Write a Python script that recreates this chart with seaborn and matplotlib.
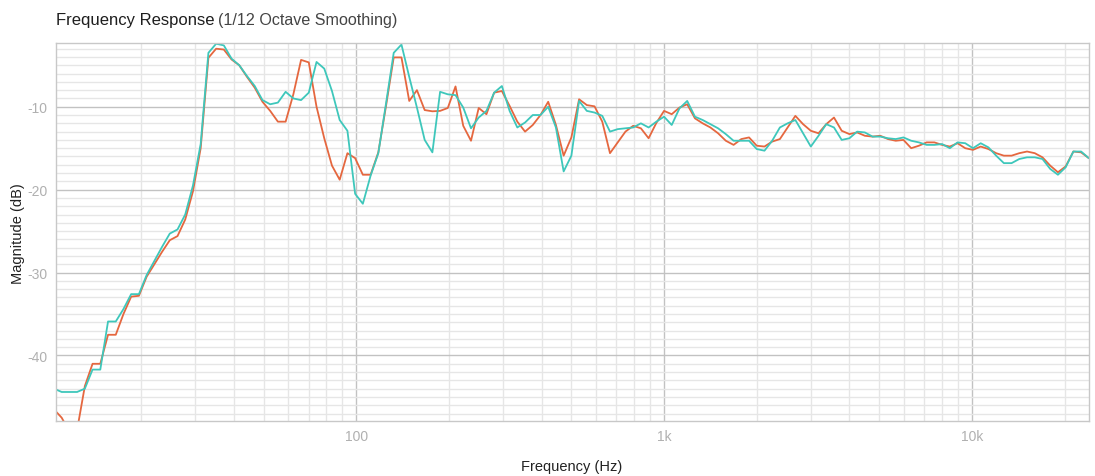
import matplotlib
matplotlib.use("Agg")
import matplotlib.pyplot as plt
from matplotlib import font_manager
from matplotlib.ticker import FixedLocator, FuncFormatter, MultipleLocator, NullFormatter
import pandas as pd
import seaborn as sns

# 1/12-octave analysis bands (Hz)
freq_hz = [
    10.43, 11.05, 11.71, 12.40, 13.14, 13.92, 14.75, 15.63, 16.56, 17.54,
    18.58, 19.69, 20.86, 22.10, 23.41, 24.80, 26.28, 27.84, 29.50, 31.25,
    33.11, 35.08, 37.16, 39.37, 41.71, 44.19, 46.82, 49.61, 52.56, 55.68,
    58.99, 62.50, 66.22, 70.15, 74.33, 78.75, 83.43, 88.39, 93.65, 99.21,
    105.1, 111.4, 118.0, 125.0, 132.4, 140.3, 148.7, 157.5, 166.9, 176.8,
    187.3, 198.4, 210.2, 222.7, 236.0, 250.0, 264.9, 280.6, 297.3, 315.0,
    333.7, 353.6, 374.6, 396.9, 420.4, 445.4, 471.9, 500.0, 529.7, 561.2,
    594.6, 630.0, 667.4, 707.1, 749.2, 793.7, 840.9, 890.9, 943.9, 1000,
    1059, 1122, 1189, 1260, 1335, 1414, 1498, 1587, 1682, 1782,
    1888, 2000, 2119, 2245, 2378, 2520, 2670, 2828, 2997, 3175,
    3364, 3564, 3776, 4000, 4238, 4490, 4757, 5040, 5339, 5657,
    5993, 6350, 6727, 7127, 7551, 8000, 8476, 8980, 9514, 10079,
    10679, 11314, 11986, 12699, 13454, 14254, 15102, 16000, 16951, 17959,
    19027, 20159, 21357, 22627, 23973,
]

# Smoothed magnitude, first measurement (dB)
mag_a_db = [
    -46.5, -47.5, -49.2, -49.0, -43.7, -41.0, -41.0, -37.5, -37.5, -35.0,
    -32.9, -32.8, -30.5, -29.0, -27.5, -26.1, -25.6, -23.6, -20.2, -15.0,
    -4.1, -3.0, -3.1, -4.3, -5.0, -6.4, -7.7, -9.4, -10.5, -11.8,
    -11.8, -8.5, -4.35, -4.65, -10.0, -13.8, -17.1, -18.8, -15.6, -16.2,
    -18.2, -18.2, -15.5, -9.9, -4.05, -4.05, -9.3, -8.0, -10.4, -10.55,
    -10.5, -10.15, -7.55, -12.3, -14.1, -10.15, -10.9, -8.3, -8.1, -9.9,
    -11.8, -13.0, -12.2, -11.0, -9.4, -12.2, -15.9, -13.7, -9.1, -9.8,
    -9.95, -11.8, -15.6, -14.3, -13.0, -12.3, -12.6, -13.8, -11.95, -10.5,
    -10.9, -10.1, -9.7, -11.4, -12.0, -12.5, -13.2, -14.1, -14.6, -13.9,
    -13.7, -14.7, -14.8, -14.2, -13.9, -12.5, -11.1, -12.1, -12.9, -13.2,
    -12.1, -11.3, -12.9, -13.3, -13.1, -13.5, -13.6, -13.5, -13.9, -14.1,
    -14.0, -15.0, -14.7, -14.3, -14.3, -14.6, -14.8, -14.4, -15.0, -15.2,
    -14.8, -15.1, -15.6, -15.9, -15.9, -15.6, -15.4, -15.6, -16.1, -17.1,
    -17.9, -17.2, -15.4, -15.5, -16.2,
]

# Smoothed magnitude, second measurement (dB)
mag_b_db = [
    -44.0, -44.4, -44.4, -44.4, -44.0, -41.7, -41.7, -35.9, -35.9, -34.4,
    -32.6, -32.6, -30.3, -28.6, -26.9, -25.3, -24.8, -23.0, -19.5, -14.5,
    -3.5, -2.4, -2.6, -4.2, -5.0, -6.3, -7.5, -9.2, -9.7, -9.5,
    -8.2, -9.0, -9.2, -8.3, -4.6, -5.4, -8.1, -11.6, -12.9, -20.5,
    -21.7, -18.3, -15.6, -9.6, -3.5, -2.5, -6.4, -10.1, -14.0, -15.5,
    -8.2, -8.5, -8.6, -10.1, -12.6, -11.3, -10.5, -8.3, -7.5, -10.5,
    -12.5, -11.9, -11.0, -11.0, -10.0, -12.5, -17.8, -15.9, -9.3, -10.5,
    -10.7, -11.1, -13.0, -12.7, -12.6, -12.5, -12.0, -12.5, -11.8, -11.2,
    -12.2, -10.2, -9.3, -11.2, -11.6, -12.1, -12.6, -13.3, -14.1, -14.1,
    -14.1, -15.1, -15.3, -14.1, -12.5, -12.0, -11.6, -13.2, -14.8, -13.5,
    -12.1, -12.5, -14.0, -13.8, -13.0, -13.1, -13.6, -13.6, -13.8, -13.9,
    -13.7, -14.1, -14.3, -14.6, -14.6, -14.5, -15.0, -14.3, -14.4, -15.0,
    -14.4, -14.9, -15.9, -16.8, -16.8, -16.3, -16.1, -16.1, -16.3, -17.5,
    -18.2, -17.3, -15.4, -15.4, -16.2,
]

channels = ["A", "B"]
channel_colors = {"A": "#E5673F", "B": "#3EC7BB"}

x_ticks = [100, 1000, 10000]
x_tick_labels = ["100", "1k", "10k"]
y_ticks = [-40, -30, -20, -10]

sns.set_theme(style="white")
installed = {f.name for f in font_manager.fontManager.ttflist}
narrow = "Liberation Sans Narrow" if "Liberation Sans Narrow" in installed else "Liberation Sans"
plt.rcParams["font.family"] = ["Liberation Sans", "DejaVu Sans"]
plt.rcParams["axes.unicode_minus"] = False

df = pd.DataFrame({
    "Frequency (Hz)": freq_hz * 2,
    "Magnitude (dB)": mag_a_db + mag_b_db,
    "Channel": [channels[0]] * len(freq_hz) + [channels[1]] * len(freq_hz),
})

W, H = 1095, 477
fig = plt.figure(figsize=(W / 100, H / 100), dpi=100)
ax = fig.add_axes([0.0509, 0.1153, 0.9436, 0.7918])

sns.lineplot(data=df, x="Frequency (Hz)", y="Magnitude (dB)", hue="Channel",
             hue_order=channels, palette=channel_colors, sort=False,
             estimator=None, legend=False, linewidth=1.3, ax=ax)

ax.set_xscale("log")
ax.set_xlim(10.57, 24000)
ax.set_ylim(-47.9, -2.35)

ax.xaxis.set_major_locator(FixedLocator(x_ticks))
ax.xaxis.set_major_formatter(FuncFormatter(
    lambda v, p: x_tick_labels[x_ticks.index(int(round(v)))] if int(round(v)) in x_ticks else ""))
minor_x = [m * d for d in (10, 100, 1000, 10000) for m in range(2, 10) if 10.57 < m * d < 24000]
ax.xaxis.set_minor_locator(FixedLocator(minor_x))
ax.xaxis.set_minor_formatter(NullFormatter())
ax.yaxis.set_major_locator(FixedLocator(y_ticks))
ax.yaxis.set_minor_locator(MultipleLocator(1))
ax.yaxis.set_major_formatter(FuncFormatter(lambda v, p: f"{int(v)}"))

ax.set_axisbelow(True)
ax.grid(which="minor", color="#e6e6e6", linewidth=1.0)
ax.grid(which="major", color="#c2c2c2", linewidth=1.0)
for s in ax.spines.values():
    s.set_visible(True)
    s.set_color("#c8c8c8")
    s.set_linewidth(1.0)

ax.tick_params(which="both", length=0)
ax.tick_params(axis="x", pad=6, labelcolor="#b0b0b0", labelsize=10)
ax.tick_params(axis="y", pad=6, labelcolor="#b0b0b0", labelsize=10)
for lab in ax.get_xticklabels() + ax.get_yticklabels():
    lab.set_family(narrow)

ax.set_xlabel("")
ax.set_ylabel("")
fig.text(572 / W, 1 - 467 / H, "Frequency (Hz)", fontsize=10.5, color="#222222",
         family=narrow, ha="center", va="center")
fig.text(18 / W, 1 - 234 / H, "Magnitude (dB)", fontsize=10.5, color="#222222",
         rotation=90, ha="center", va="center")

t1 = fig.text(0.0509, 1 - 20 / H, "Frequency Response", fontsize=12, color="#1e1e1e",
              va="center", ha="left")
fig.canvas.draw()
bb = t1.get_window_extent()
fig.text((bb.x1 + 4) / fig.bbox.width, 1 - 20 / H, "(1/12 Octave Smoothing)", fontsize=11.6,
         color="#444444", va="center", ha="left")

fig.savefig("out.png", dpi=100)
